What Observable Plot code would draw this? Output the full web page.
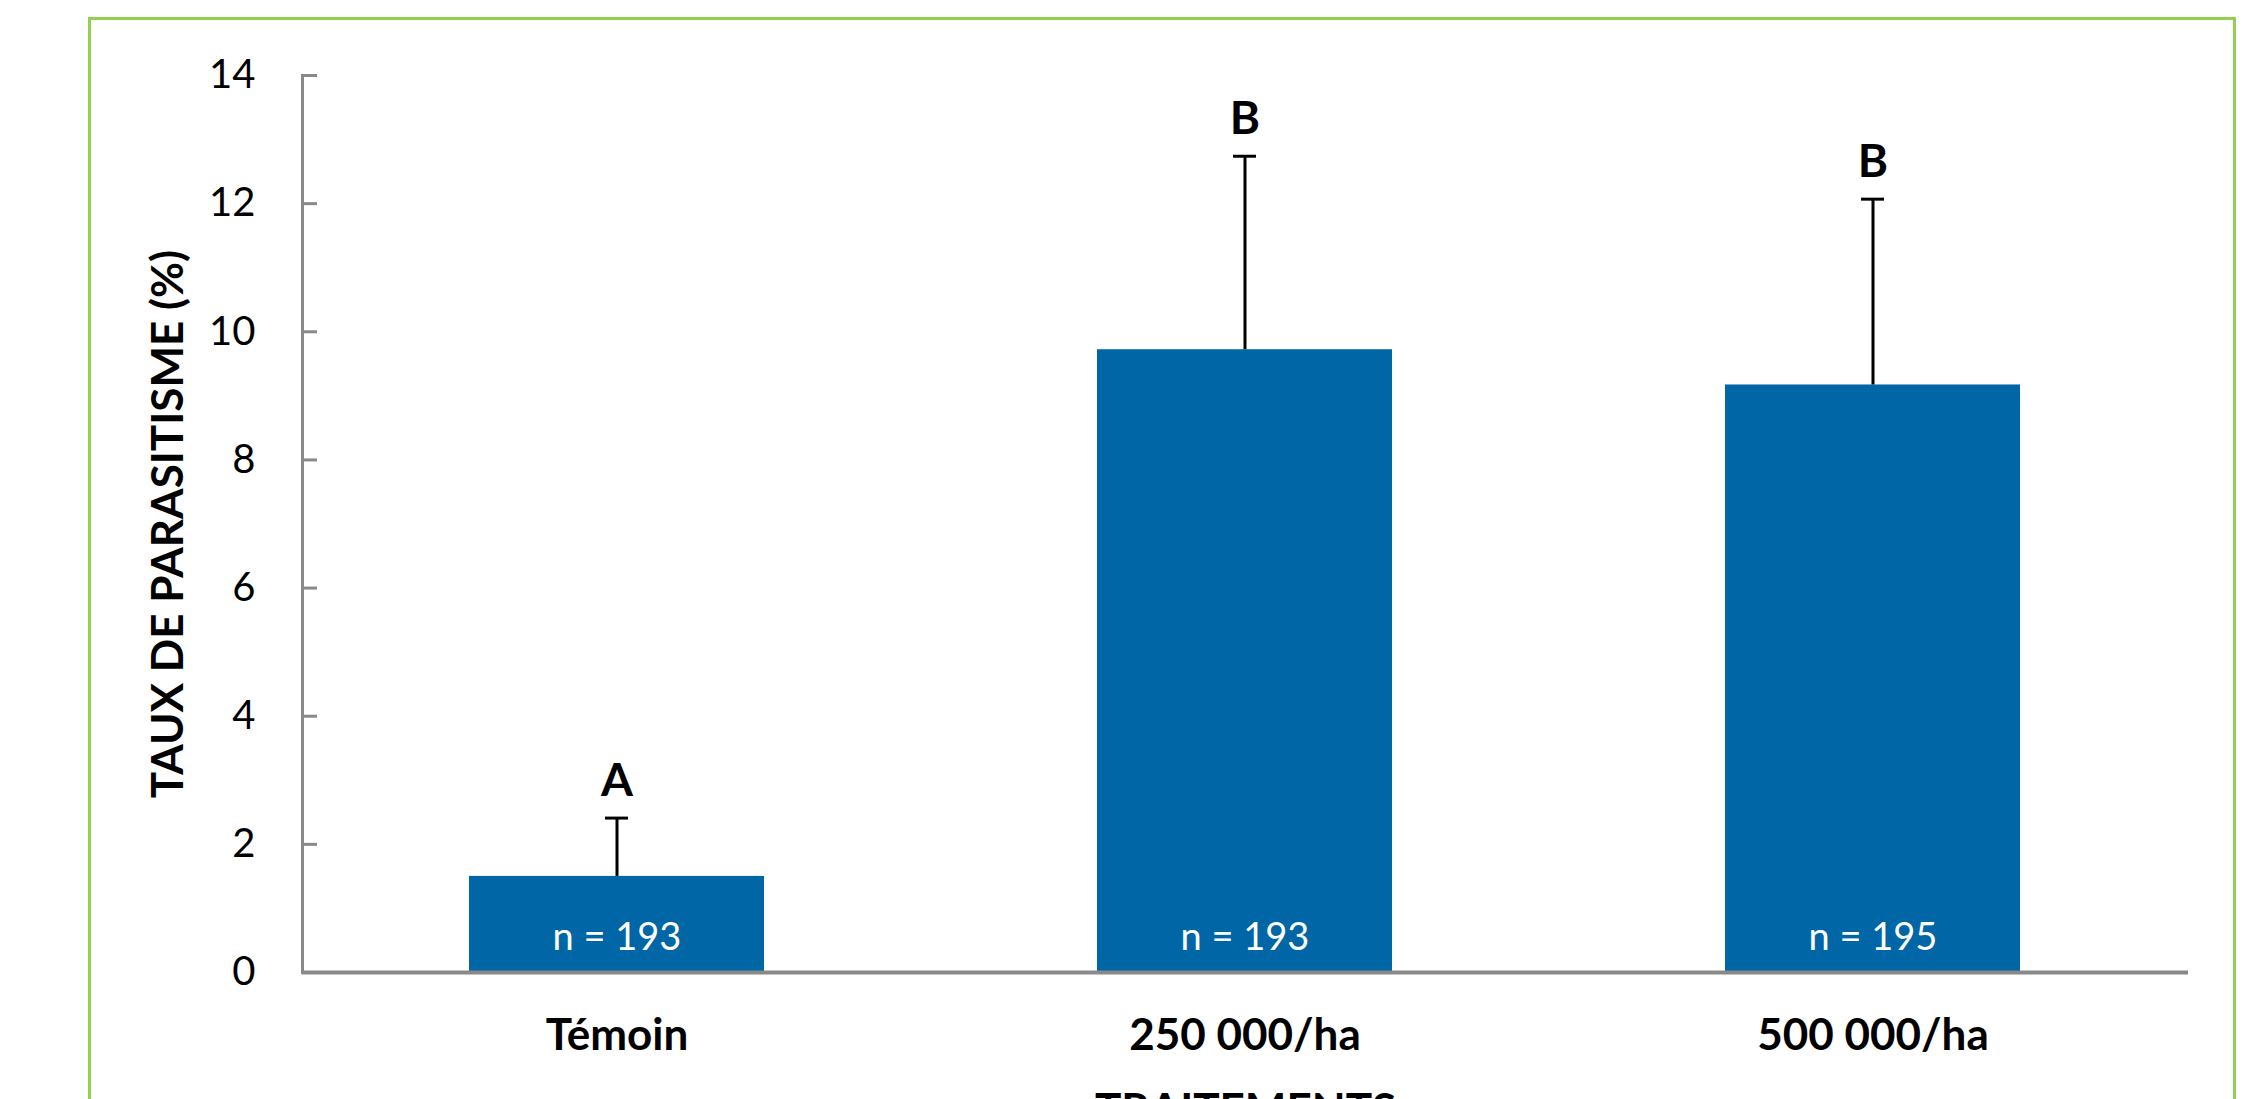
<!DOCTYPE html>
<html>
<head>
<meta charset="utf-8">
<script src="https://cdn.jsdelivr.net/npm/d3@7"></script>
<script src="https://cdn.jsdelivr.net/npm/@observablehq/plot@0.6"></script>
<style>
  html, body { margin: 0; padding: 0; background: #fff; overflow: hidden; }
  #wrap { position: relative; width: 2247px; height: 1099px; }
  #border { position: absolute; left: 88px; top: 17px; width: 2148px; height: 1200px; border: 3px solid #92d050; box-sizing: border-box; }
  #chart { position: absolute; left: 0; top: 0; }
</style>
</head>
<body>
<div id="wrap">
  <div id="border"></div>
  <div id="chart"></div>
</div>
<script>
const categories = ["Témoin", "250 000/ha", "500 000/ha"];
const values = [1.50, 9.72, 9.17];
const errorHigh = [2.41, 12.74, 12.07];
const letters = ["A", "B", "B"];
const counts = ["n = 193", "n = 193", "n = 195"];
const yTicks = [0, 2, 4, 6, 8, 10, 12, 14];
const yLabel = "TAUX DE PARASITISME (%)";
const xLabel = "TRAITEMENTS";

const data = categories.map((c, i) => ({cat: c, v: values[i], hi: errorHigh[i], letter: letters[i], n: counts[i]}));

const W = 2247, H = 1099, mL = 302, mR = 59, mT = 75, mB = 127;
const padInner = 0.53, padOuter = 0.265;
const step = (W - mL - mR) / (categories.length - padInner + 2 * padOuter);
const firstCenter = mL + padOuter * step + (1 - padInner) * step / 2;
const axisGrey = "#898989";

const chart = Plot.plot({
  width: W, height: H,
  marginLeft: mL, marginRight: mR, marginTop: mT, marginBottom: mB,
  style: {fontFamily: "Lato, 'Noto Sans', sans-serif", fontSize: "40px", background: "transparent", overflow: "visible", color: "#000"},
  x: {domain: categories, paddingInner: padInner, paddingOuter: padOuter, label: null},
  y: {domain: [0, 14], label: null},
  marks: [
    Plot.barY(data, {x: "cat", y: "v", fill: "#0066a6"}),
    Plot.ruleX(data, {x: "cat", y1: "v", y2: "hi", stroke: "#000", strokeWidth: 3}),
    Plot.tickY(data, {x: "cat", y: "hi", stroke: "#000", strokeWidth: 3, insetLeft: 136, insetRight: 136}),
    Plot.text(data, {x: "cat", y: "hi", text: "letter", dy: -37, fontSize: 46, fontWeight: "bold", fill: "#000"}),
    Plot.text(data, {x: "cat", y: 0, text: "n", dy: -35, fontSize: 38, fill: "#fff"}),
    Plot.tickY(yTicks, {y: d => d, stroke: axisGrey, strokeWidth: 3, insetRight: W - mL - mR - 15}),
    Plot.axisY({ticks: yTicks, tickSize: 0, tickPadding: 47, fontSize: 40, tickFormat: d => String(d), label: null}),
    Plot.axisX({tickSize: 0, tickPadding: 46, fontSize: 44, fontWeight: "bold", label: null}),
    Plot.frame({anchor: "left", stroke: axisGrey, strokeWidth: 3}),
    Plot.ruleY([0], {stroke: axisGrey, strokeWidth: 4}),
    Plot.text([yLabel], {x: () => categories[0], y: () => 7, dx: -(firstCenter - 168), rotate: -90, fontSize: 44, fontWeight: "bold", fill: "#000"}),
    Plot.text([xLabel], {frameAnchor: "bottom", dy: 152, fontSize: 44, fontWeight: "bold", fill: "#000"})
  ]
});
document.getElementById("chart").appendChild(chart);
</script>
</body>
</html>
